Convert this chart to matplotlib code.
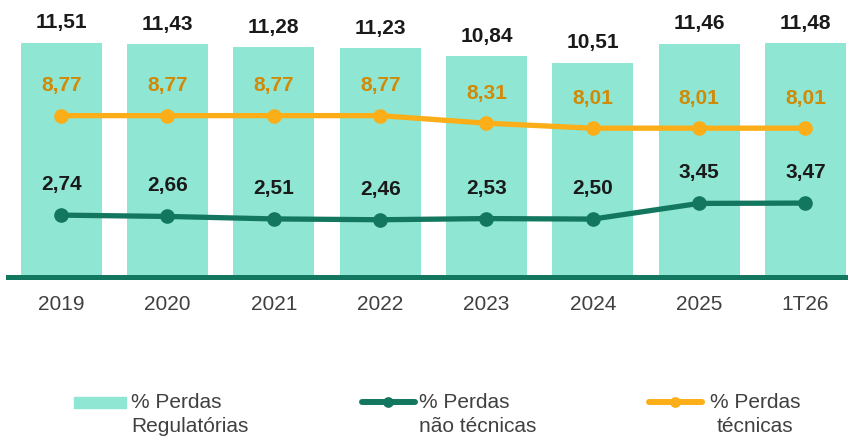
import matplotlib.pyplot as plt
from matplotlib.patches import Rectangle
from matplotlib.lines import Line2D

categories = ['2019', '2020', '2021', '2022', '2023', '2024', '2025', '1T26']
perdas_regulatorias = [11.51, 11.43, 11.28, 11.23, 10.84, 10.51, 11.46, 11.48]
perdas_tecnicas = [8.77, 8.77, 8.77, 8.77, 8.31, 8.01, 8.01, 8.01]
perdas_nao_tecnicas = [2.74, 2.66, 2.51, 2.46, 2.53, 2.50, 3.45, 3.47]

BAR_COLOR = '#8EE6D3'
DARK_GREEN = '#13775F'
ORANGE = '#FBAE17'
ORANGE_TXT = '#D08A08'
LABEL_COLOR = '#1A1A1A'
TICK_COLOR = '#404040'

plt.rcParams['font.family'] = ['Liberation Sans', 'DejaVu Sans']


def fmt(v):
    return f'{v:.2f}'.replace('.', ',')


fig = plt.figure(figsize=(8.48, 4.41), dpi=100)
ax = fig.add_axes([8 / 848, 1 - 276.5 / 441, 840 / 848, 246.5 / 441])
x = list(range(len(categories)))

# bars on the main axis
ax.bar(x, perdas_regulatorias, width=0.76, color=BAR_COLOR, zorder=1)
ax.set_xlim(-0.5, 7.4)
ax.set_ylim(0, 12.14)
for xi, v in zip(x, perdas_regulatorias):
    ax.annotate(fmt(v), (xi, v), xytext=(0, 14.5), textcoords='offset points',
                ha='center', va='center', fontsize=15, fontweight='bold',
                color=LABEL_COLOR)

# lines on their own scale
ax2 = ax.twinx()
ax2.set_ylim(-0.98, 13.96)
ax2.plot(x, perdas_tecnicas, color=ORANGE, lw=3.8, marker='o', ms=9.5, zorder=3)
ax2.plot(x, perdas_nao_tecnicas, color=DARK_GREEN, lw=3.8, marker='o', ms=9.5, zorder=3)
for xi, v in zip(x, perdas_tecnicas):
    ax2.annotate(fmt(v), (xi, v), xytext=(0, 21.5), textcoords='offset points',
                 ha='center', va='center', fontsize=15, fontweight='bold',
                 color=ORANGE_TXT)
for xi, v in zip(x, perdas_nao_tecnicas):
    ax2.annotate(fmt(v), (xi, v), xytext=(0, 22), textcoords='offset points',
                 ha='center', va='center', fontsize=15, fontweight='bold',
                 color=LABEL_COLOR)

for a in (ax, ax2):
    for s in ('top', 'left', 'right'):
        a.spines[s].set_visible(False)
    a.set_yticks([])
ax2.spines['bottom'].set_visible(False)
ax.spines['bottom'].set_color(DARK_GREEN)
ax.spines['bottom'].set_linewidth(3.6)
ax.spines['bottom'].set_zorder(5)
ax.set_xticks(x)
ax.set_xticklabels(categories, fontsize=15, color=TICK_COLOR)
ax.tick_params(axis='x', length=0, pad=13)

# legend, drawn by hand in figure pixels
W, H = 848, 441
def fx(px): return px / W
def fy(py): return 1 - py / H

fig.patches.append(Rectangle((fx(74), fy(408)), fx(52), 10.7 / H, color=BAR_COLOR,
                             transform=fig.transFigure, figure=fig))
for x0, col in ((360, DARK_GREEN), (647, ORANGE)):
    fig.lines.append(Line2D([fx(x0 + 2), fx(x0 + 55)], [fy(402.3), fy(402.3)], color=col,
                            lw=4.3, solid_capstyle='round', transform=fig.transFigure))
    fig.lines.append(Line2D([fx(x0 + 28)], [fy(402.3)], color=col, marker='o', ms=6.7,
                            transform=fig.transFigure))

leg_kw = dict(fontsize=15, color=TICK_COLOR, va='center', linespacing=1.31)
fig.text(fx(131), fy(414.5), '% Perdas\nRegulatórias', ha='left', **leg_kw)
fig.text(fx(419), fy(414.5), '% Perdas\nnão técnicas', ha='left', **leg_kw)
fig.text(fx(755), fy(414.5), '% Perdas\ntécnicas', ha='center', multialignment='center', **leg_kw)

fig.savefig('out.png', dpi=100, facecolor='white')
